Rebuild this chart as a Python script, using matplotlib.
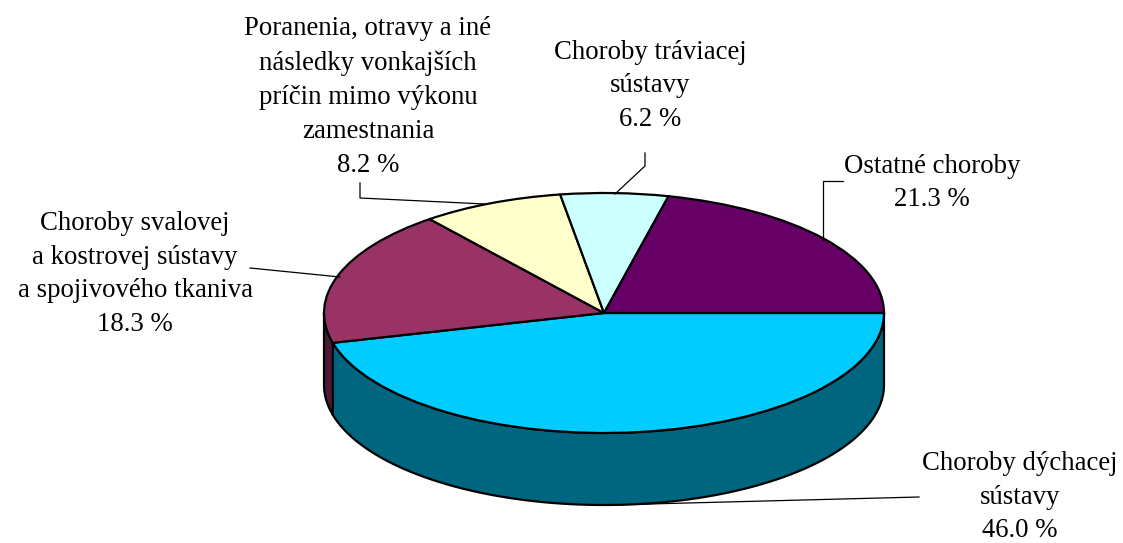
import numpy as np
import matplotlib
matplotlib.use('Agg')
import matplotlib.pyplot as plt

# Slices, clockwise from the east
categories = ['Choroby dýchacej\nsústavy',
              'Choroby svalovej\na kostrovej sústavy\na spojivového tkaniva',
              'Poranenia, otravy a iné\nnásledky vonkajších\npríčin mimo výkonu\nzamestnania',
              'Choroby tráviacej\nsústavy',
              'Ostatné choroby']
values = [46.0, 18.3, 8.2, 6.2, 21.3]
top_colors = ['#00CCFF', '#993366', '#FFFFCC', '#CCFFFF', '#660066']
wall_colors = ['#006680', '#4D1A33', '#808066', '#668080', '#330033']

W, H = 1123, 543
cx, cy = 604, 313
rx, ry = 280, 120
depth = 72 / ry

fig = plt.figure(figsize=(W / 100, H / 100), dpi=100)
ax = fig.add_axes([0, 0, 1, 1])

wedges, _ = ax.pie(values, colors=top_colors, startangle=0, counterclock=False,
                   wedgeprops={'edgecolor': 'black', 'linewidth': 1.6})

# Walls for the part of each slice facing the viewer
start = 0.0
for val, col in zip(values, wall_colors):
    end = start - val * 3.6
    a1, a2 = max(start, -180), max(end, -180)
    if a1 > a2:
        t = np.radians(np.linspace(a1, a2, 100))
        xs = np.concatenate([np.cos(t), np.cos(t[::-1])])
        ys = np.concatenate([np.sin(t), np.sin(t[::-1]) - depth])
        ax.fill(xs, ys, facecolor=col, edgecolor='black', linewidth=1.6,
                joinstyle='round', zorder=0)
    start = end

# pie() forces an equal aspect, squash it into an ellipse
ax.set_aspect('auto')
ax.set_xlim(-cx / rx, (W - cx) / rx)
ax.set_ylim(-(H - cy) / ry, cy / ry)

# Overlay in pixel coordinates for the labels and leader lines
ov = fig.add_axes([0, 0, 1, 1])
ov.set_xlim(0, W)
ov.set_ylim(H, 0)
ov.axis('off')
ov.patch.set_alpha(0)

label_pos = [(1020, 497), (135, 274), (368, 97), (650, 86), (932, 183)]
leaders = [([919, 610], [497, 505]),
           ([250, 340], [268, 277]),
           ([360, 360, 485], [183, 198, 204]),
           ([645, 645, 615], [153, 166, 194]),
           ([843, 823, 823], [181, 181, 240])]

for cat, val, (x, y) in zip(categories, values, label_pos):
    ov.text(x, y, f'{cat}\n{val:.1f} %', ha='center', va='center', ma='center',
            family='Liberation Serif', fontsize=19.3, linespacing=1.47, color='black')
for xs, ys in leaders:
    ov.plot(xs, ys, color='black', lw=0.9)

fig.savefig('out.png', dpi=100, facecolor='white')
